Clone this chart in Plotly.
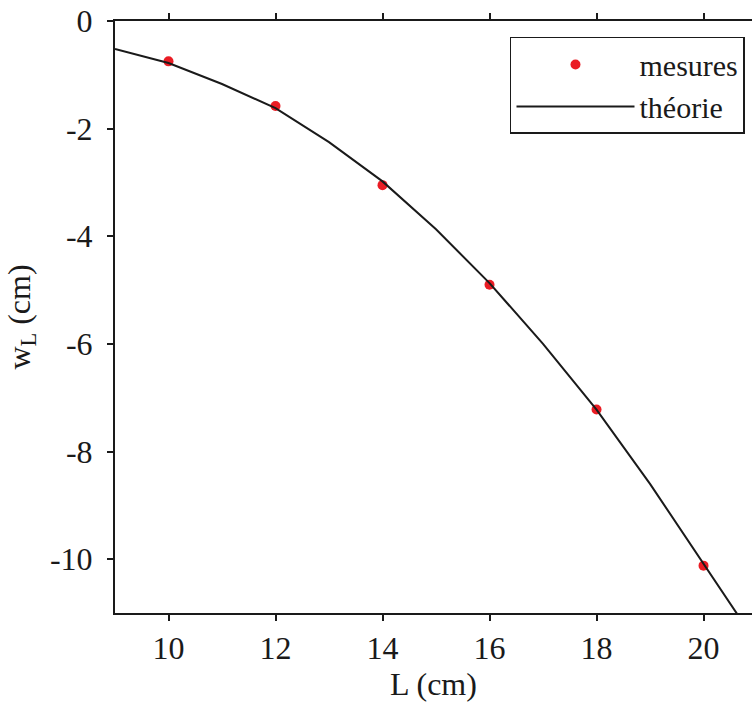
import plotly.graph_objects as go

meas_L = [10, 12, 14, 16, 18, 20]
meas_w = [-0.75, -1.58, -3.05, -4.90, -7.22, -10.12]

theo_L = [9, 10, 11, 12, 13, 14, 15, 16, 17, 18, 19, 20, 21]
theo_w = [-0.52, -0.78, -1.17, -1.62, -2.25, -2.98, -3.87, -4.87, -6.00, -7.22, -8.60, -10.07, -11.57]

x_ticks = [10, 12, 14, 16, 18, 20]
y_ticks = [0, -2, -4, -6, -8, -10]

FONT = "Liberation Serif"
INK = "#1a1a1a"

fig = go.Figure()
fig.add_trace(go.Scatter(x=meas_L, y=meas_w, mode="markers", name="mesures",
                         marker=dict(color="#ea1c24", size=10)))
fig.add_trace(go.Scatter(x=theo_L, y=theo_w, mode="lines", name="théorie",
                         line=dict(color=INK, width=2)))

fig.update_layout(
    width=752, height=702,
    margin=dict(l=115, r=0, t=21, b=89),
    plot_bgcolor="white", paper_bgcolor="white",
    font=dict(family=FONT, size=32, color=INK),
    showlegend=True,
    legend=dict(x=0.989, y=0.973, xanchor="right", yanchor="top",
                bordercolor=INK, borderwidth=1.5, bgcolor="white",
                font=dict(family=FONT, size=30, color=INK),
                itemwidth=118, tracegroupgap=0),
)
fig.update_xaxes(
    range=[9, 20.906], tickvals=x_ticks, ticks="outside", ticklen=6, tickwidth=1.5,
    tickcolor=INK, showline=True, linecolor=INK, linewidth=2, mirror="ticks",
    showgrid=False, zeroline=False, tickfont=dict(family=FONT, size=32),
    title=dict(text="L (cm)", font=dict(family=FONT, size=32), standoff=6),
)
fig.update_yaxes(
    range=[-11, 0], tickvals=y_ticks, ticktext=[str(v) for v in y_ticks],
    ticks="outside", ticklen=6, tickwidth=1.5, tickcolor=INK,
    showline=True, linecolor=INK, linewidth=2, mirror=False,
    showgrid=False, zeroline=False, tickfont=dict(family=FONT, size=32),
    ticklabelstandoff=8,
    title=dict(text="w<sub>L</sub> (cm)", font=dict(family=FONT, size=32), standoff=10),
)

fig.write_html("out.html")
